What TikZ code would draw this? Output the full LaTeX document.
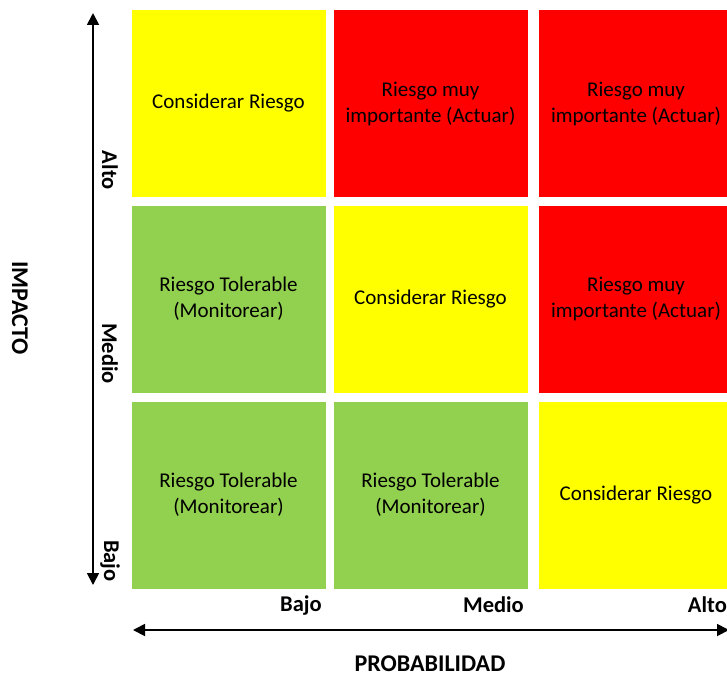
\documentclass[tikz,border=0pt]{standalone}
\usepackage{fontspec}
\setmainfont{Carlito}
\usetikzlibrary{arrows.meta}

\definecolor{riskred}{HTML}{FF0000}
\definecolor{riskyellow}{HTML}{FFFF00}
\definecolor{riskgreen}{HTML}{92D050}

\begin{document}
\begin{tikzpicture}[x=1pt, y=-1pt,
    cell/.style={rectangle, minimum width=194pt, minimum height=187pt,
      inner sep=0pt, align=center, font=\fontsize{21}{26}\selectfont},
    axislabel/.style={inner sep=0pt, font=\bfseries\fontsize{22.5}{26}\selectfont},
    axistitle/.style={inner sep=0pt, font=\bfseries\fontsize{24}{28}\selectfont},
    axisarrow/.style={line width=1.8pt, {Triangle[length=12pt,width=12pt]}-{Triangle[length=12pt,width=12pt]}}]
    \useasboundingbox (0,0) rectangle (727,677);
    \clip (0,0) rectangle (727,677);

    % risk cells: row/column, colour, text
    \foreach \r/\c/\y/\x/\col/\txt in {
        1/1/103.5/228.5/riskyellow/{Considerar Riesgo},
        1/2/103.5/430.5/riskred/{Riesgo muy\\importante (Actuar)},
        1/3/103.5/636/riskred/{Riesgo muy\\importante (Actuar)},
        2/1/299/228.5/riskgreen/{Riesgo Tolerable\\(Monitorear)},
        2/2/299/430.5/riskyellow/{Considerar Riesgo},
        2/3/299/636/riskred/{Riesgo muy\\importante (Actuar)},
        3/1/495/228.5/riskgreen/{Riesgo Tolerable\\(Monitorear)},
        3/2/495/430.5/riskgreen/{Riesgo Tolerable\\(Monitorear)},
        3/3/495/636/riskyellow/{Considerar Riesgo}} {
      \node[cell, fill=\col] (r\r c\c) at (\x, \y) {\txt};
    }

    % impact axis
    \coordinate (impTop) at (93, 13);
    \coordinate (impBot) at (93, 585);
    \draw[axisarrow] (impTop) -- (impBot);
    \node[axislabel, rotate=-90, anchor=east] (impAlto) at (110, 190) {Alto};
    \node[axislabel, rotate=-90, anchor=east] (impMedio) at (110, 384) {Medio};
    \node[axislabel, rotate=-90, anchor=east] (impBajo) at (110, 582) {Bajo};
    \node[axistitle, rotate=-90] (impacto) at (20, 308) {IMPACTO};

    % probability axis
    \coordinate (probLeft) at (133, 630);
    \coordinate (probRight) at (729, 630);
    \draw[axisarrow] (probLeft) -- (probRight);
    \node[axislabel, anchor=east] (probBajo) at (322, 605) {Bajo};
    \node[axislabel, anchor=east] (probMedio) at (524, 605) {Medio};
    \node[axislabel, anchor=east] (probAlto) at (727, 605) {Alto};
    \node[axistitle] (probabilidad) at (430, 664) {PROBABILIDAD};
  \end{tikzpicture}
\end{document}
